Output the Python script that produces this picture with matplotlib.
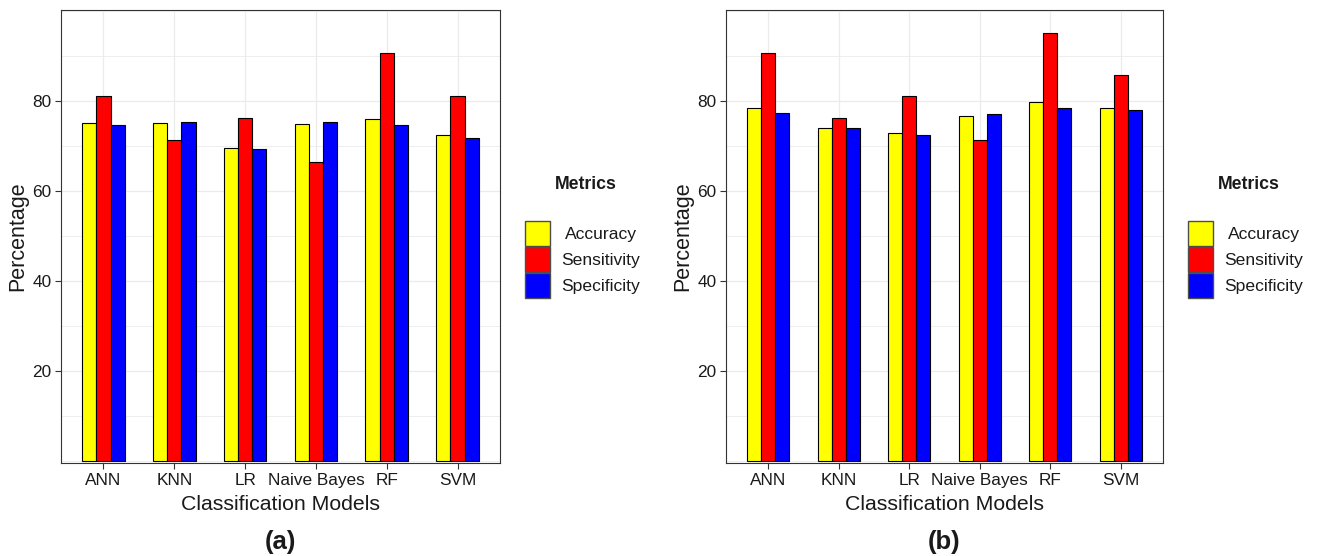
import matplotlib
matplotlib.use("Agg")
import matplotlib.pyplot as plt
from matplotlib.patches import Rectangle
from matplotlib.ticker import MultipleLocator
import numpy as np

plt.rcParams['font.family'] = ['Liberation Sans', 'DejaVu Sans']

models = ["ANN", "KNN", "LR", "Naive Bayes", "RF", "SVM"]
metrics = ["Accuracy", "Sensitivity", "Specificity"]
colors = ["#FFFF00", "#FF0000", "#0000FF"]

# panel (a)
acc_a = [75.2, 75.2, 69.6, 74.9, 75.9, 72.4]
sens_a = [81.0, 71.3, 76.2, 66.5, 90.7, 81.0]
spec_a = [74.7, 75.4, 69.3, 75.4, 74.7, 71.7]
# panel (b)
acc_b = [78.4, 74.1, 72.9, 76.7, 79.7, 78.4]
sens_b = [90.7, 76.2, 81.0, 71.3, 95.2, 85.8]
spec_b = [77.4, 74.1, 72.4, 77.2, 78.4, 78.0]

W, H = 1318, 556
fig = plt.figure(figsize=(W / 100, H / 100), dpi=100)


def px_box(x0, y0, x1, y1):
    return [x0 / W, 1 - y1 / H, (x1 - x0) / W, (y1 - y0) / H]


def panel(rect, series, tag):
    ax = fig.add_axes(px_box(*rect))
    x = np.arange(len(models)) + 1
    bw = 0.2
    for i, vals in enumerate(series):
        ax.bar(x + (i - 1) * bw, vals, width=bw, color=colors[i],
               edgecolor="black", linewidth=0.8, zorder=3)
    ax.set_xlim(0.4, 6.6)
    ax.set_ylim(-0.4, 100.2)
    ax.set_xticks(x)
    ax.set_xticklabels(models)
    ax.set_yticks([20, 40, 60, 80])
    ax.yaxis.set_minor_locator(MultipleLocator(10))
    ax.tick_params(axis="y", which="minor", length=0)
    ax.set_axisbelow(True)
    ax.grid(which="major", color="#EBEBEB", linewidth=0.9)
    ax.grid(which="minor", axis="y", color="#EBEBEB", linewidth=0.6)
    for s in ax.spines.values():
        s.set_color("#333333")
        s.set_linewidth(0.8)
    ax.tick_params(which="major", length=4, width=0.8, color="#333333",
                   labelsize=12.4, labelcolor="#1a1a1a", pad=3)
    h = rect[3] - rect[1]
    w = rect[2] - rect[0]
    ax.text(0.5, -41 / h, "Classification Models", transform=ax.transAxes,
            ha="center", va="center", fontsize=15.3, color="#1a1a1a")
    ax.text(0.5, -79 / h, tag, transform=ax.transAxes, ha="center",
            va="center", fontsize=18.5, fontweight="bold", color="#1a1a1a")
    ax.text(-43 / w, 0.5, "Percentage", transform=ax.transAxes, rotation=90,
            ha="center", va="center", fontsize=15.5, color="#1a1a1a")

    # legend
    right = rect[2]
    kx = right + 25
    fig.text((right + 86) / W, 1 - 185 / H, "Metrics", ha="center",
             va="center", fontsize=12.7, fontweight="bold", color="#1a1a1a")
    for i, m in enumerate(metrics):
        ky = 221 + i * 26
        fig.add_artist(Rectangle((kx / W, 1 - (ky + 25) / H), 25 / W, 25 / H,
                                 transform=fig.transFigure, facecolor=colors[i],
                                 edgecolor="#4d4d4d", linewidth=1))
        fig.text((kx + 76) / W, 1 - (ky + 13.5) / H, m, ha="center",
                 va="center", fontsize=12.6, color="#1a1a1a")
    return ax


panel((61, 10, 500, 463), [acc_a, sens_a, spec_a], "(a)")
panel((726, 10, 1163, 463), [acc_b, sens_b, spec_b], "(b)")

fig.savefig("out.png", dpi=100)
